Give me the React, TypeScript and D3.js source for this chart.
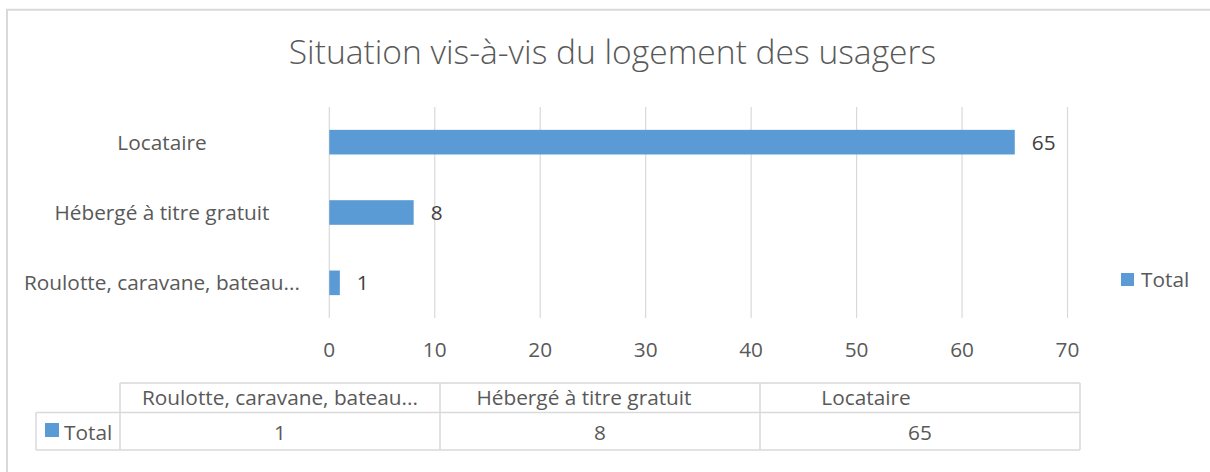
import React from "react";
import * as d3 from "d3";

// categories as they appear in the chart, top to bottom
const categories = ["Locataire", "Hébergé à titre gratuit", "Roulotte, caravane, bateau..."];
const totals = [65, 8, 1];
const xTicks = [0, 10, 20, 30, 40, 50, 60, 70];
// the data table lists the categories in the opposite order
const tableCategories = ["Roulotte, caravane, bateau...", "Hébergé à titre gratuit", "Locataire"];
const tableTotals = [1, 8, 65];
const seriesName = "Total";

const W = 1210;
const H = 472;
const font = "'Open Sans', 'Noto Sans', sans-serif";
const grey = "#d9d9d9";
const textCol = "#595959";
const barCol = "#5b9bd5";
const fs = 20.8;

const App = () => {
  const x = d3.scaleLinear().domain([0, 70]).range([329.3, 1067.5]);
  const y = d3
    .scaleBand()
    .domain(categories)
    .range([107, 318])
    .paddingInner(0.65)
    .paddingOuter(0.325);

  // data table columns
  const col = d3.scaleBand().domain(tableCategories).range([120, 1080]);
  const headerShift = [0, -16, -54];
  const tTop = 383;
  const tMid = 412.5;
  const tBot = 450;

  return (
    <svg
      width={W}
      height={H}
      style={{ position: "absolute", left: 0, top: 0, background: "#fff" }}
      fontFamily={font}
    >
      {/* chart area border */}
      <path d={`M7,${H} V9.7 H${W}`} fill="none" stroke={grey} strokeWidth={2} />

      <text x={612.5} y={64} textAnchor="middle" fontSize={33.6} fontWeight={300} fill={textCol}>
        Situation vis-à-vis du logement des usagers
      </text>

      {/* gridlines */}
      {xTicks.map((t) => (
        <line key={t} x1={x(t)} x2={x(t)} y1={107} y2={318} stroke={grey} strokeWidth={1.2} />
      ))}
      {xTicks.map((t) => (
        <text key={"l" + t} x={x(t)} y={357} textAnchor="middle" fontSize={fs} fill={textCol}>
          {t}
        </text>
      ))}

      {/* bars */}
      {categories.map((c, i) => (
        <g key={c}>
          <rect x={x(0)} y={y(c)} width={x(totals[i]) - x(0)} height={y.bandwidth()} fill={barCol} />
          <text
            x={x(totals[i]) + 17}
            y={(y(c) as number) + y.bandwidth() / 2}
            dy="0.36em"
            fontSize={fs}
            fill="#404040"
          >
            {totals[i]}
          </text>
          <text
            x={162}
            y={(y(c) as number) + y.bandwidth() / 2}
            dy="0.36em"
            textAnchor="middle"
            fontSize={fs}
            fill={textCol}
          >
            {c}
          </text>
        </g>
      ))}

      {/* legend */}
      <rect x={1121} y={273} width={13} height={13} fill={barCol} />
      <text x={1141} y={286.5} fontSize={fs} fill={textCol}>
        {seriesName}
      </text>

      {/* data table */}
      <g stroke={grey} strokeWidth={1.5} fill="none">
        <line x1={120} x2={1080} y1={tTop} y2={tTop} />
        <line x1={36} x2={1080} y1={tMid} y2={tMid} />
        <line x1={36} x2={1080} y1={tBot} y2={tBot} />
        <line x1={36} x2={36} y1={tMid} y2={tBot} />
        <line x1={120} x2={120} y1={tTop} y2={tBot} />
        {tableCategories.map((c) => (
          <line key={c} x1={(col(c) as number) + col.bandwidth()} x2={(col(c) as number) + col.bandwidth()} y1={tTop} y2={tBot} />
        ))}
      </g>
      {tableCategories.map((c, i) => (
        <g key={"t" + c}>
          <text
            x={(col(c) as number) + col.bandwidth() / 2 + headerShift[i]}
            y={405}
            textAnchor="middle"
            fontSize={fs}
            fill={textCol}
          >
            {c}
          </text>
          <text
            x={(col(c) as number) + col.bandwidth() / 2}
            y={440}
            textAnchor="middle"
            fontSize={fs}
            fill={textCol}
          >
            {tableTotals[i]}
          </text>
        </g>
      ))}
      <rect x={45} y={423} width={14} height={14} fill={barCol} />
      <text x={64} y={440} fontSize={fs} fill={textCol}>
        {seriesName}
      </text>
    </svg>
  );
};

export default App;
